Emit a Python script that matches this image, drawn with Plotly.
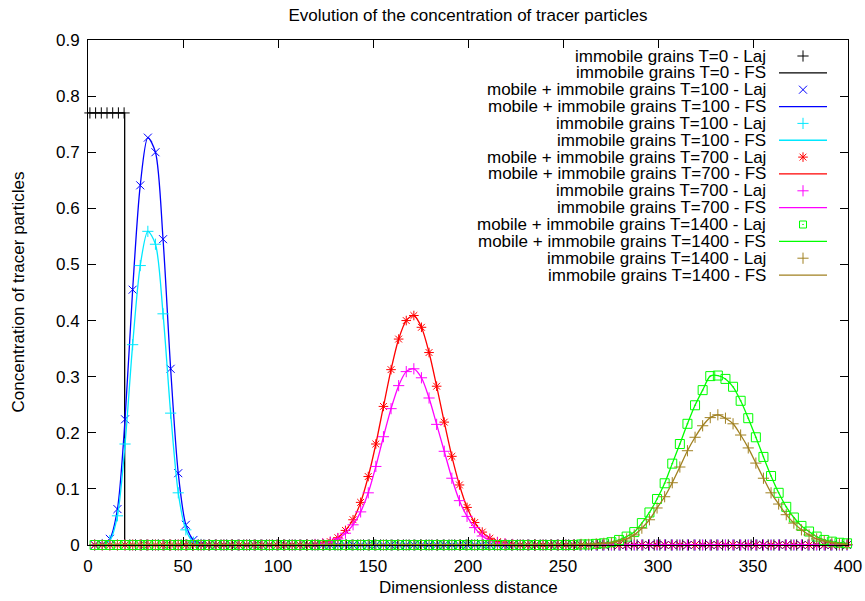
import plotly.graph_objects as go

# ---------------- data ----------------
# sample grid of the Lagrangian (Laj) results: 3.5, 7.5, ..., 399.5
GRID_START, GRID_STEP, GRID_N = 3.5, 4.0, 100
X_GRID = [GRID_START + GRID_STEP * k for k in range(GRID_N)]

# T=0 immobile grains (Laj uses a 3-unit grid, 1..397)
T0_X = [1 + 3 * k for k in range(133)]
T0_LEVEL = 0.77
T0_EDGE = 19.3
T0_LAJ = [T0_LEVEL if x <= 19.5 else 0.0 for x in T0_X]
T0_FS_X = [0.0, T0_EDGE, T0_EDGE, 400.0]
T0_FS_Y = [T0_LEVEL, T0_LEVEL, 0.0, 0.0]

# non-zero parts of each profile: (first x, values every 4 units)
MI100_START = 3.5
MI100_VALS = [0.0, 0.001, 0.011, 0.064, 0.224, 0.455, 0.641, 0.726, 0.700,
              0.545, 0.314, 0.128, 0.036, 0.009, 0.002]
I100_START = 3.5
I100_VALS = [0.0, 0.001, 0.008, 0.052, 0.180, 0.357, 0.498, 0.559, 0.536,
             0.412, 0.235, 0.093, 0.027, 0.005, 0.001]
MI700_START = 119.5
MI700_VALS = [0.001, 0.003, 0.006, 0.013, 0.026, 0.045, 0.076, 0.122, 0.180,
              0.247, 0.3125, 0.367, 0.400, 0.409, 0.388, 0.343, 0.283, 0.219,
              0.158, 0.107, 0.067, 0.040, 0.023, 0.012, 0.006, 0.003, 0.001]
I700_START = 119.5
I700_VALS = [0.001, 0.002, 0.005, 0.011, 0.021, 0.036, 0.059, 0.093, 0.140,
             0.193, 0.243, 0.284, 0.309, 0.314, 0.298, 0.262, 0.215, 0.167,
             0.119, 0.079, 0.051, 0.031, 0.016, 0.008, 0.004, 0.002, 0.001]
MI1400_START = 259.5
MI1400_VALS = [0.001, 0.001, 0.002, 0.003, 0.005, 0.009, 0.015, 0.023,
               0.039, 0.058, 0.082, 0.110, 0.145, 0.180, 0.216, 0.249, 0.276,
               0.301, 0.302, 0.296, 0.282, 0.257, 0.226, 0.192, 0.157, 0.123,
               0.093, 0.068, 0.049, 0.034, 0.024, 0.015, 0.009, 0.006, 0.004,
               0.003]
I1400_START = 259.5
I1400_VALS = [0.001, 0.001, 0.002, 0.003, 0.004, 0.007, 0.011, 0.018,
              0.030, 0.045, 0.066, 0.086, 0.111, 0.139, 0.168, 0.192, 0.2125,
              0.227, 0.232, 0.226, 0.216, 0.196, 0.173, 0.146, 0.119, 0.093,
              0.073, 0.054, 0.039, 0.027, 0.018, 0.011, 0.007, 0.004, 0.002,
              0.001]

X_TICKS = [0, 50, 100, 150, 200, 250, 300, 350, 400]
Y_TICKS = [0, 0.1, 0.2, 0.3, 0.4, 0.5, 0.6, 0.7, 0.8, 0.9]

LABELS = [
    "immobile grains T=0 - Laj",
    "immobile grains T=0 - FS",
    "mobile + immobile grains T=100 - Laj",
    "mobile + immobile grains T=100 - FS",
    "immobile grains T=100 - Laj",
    "immobile grains T=100 - FS",
    "mobile + immobile grains T=700 - Laj",
    "mobile + immobile grains T=700 - FS",
    "immobile grains T=700 - Laj",
    "immobile grains T=700 - FS",
    "mobile + immobile grains T=1400 - Laj",
    "mobile + immobile grains T=1400 - FS",
    "immobile grains T=1400 - Laj",
    "immobile grains T=1400 - FS",
]

BLACK, BLUE, CYAN, RED, MAGENTA, GREEN, BROWN = (
    "#000000", "#0000ff", "#00e8ff", "#ff0000", "#ff00ff", "#00ff00", "#a08020")


def full_profile(start, vals):
    i0 = int(round((start - GRID_START) / GRID_STEP))
    out = [0.0] * GRID_N
    for j, v in enumerate(vals):
        out[i0 + j] = v
    return out


MI100 = full_profile(MI100_START, MI100_VALS)
I100 = full_profile(I100_START, I100_VALS)
MI700 = full_profile(MI700_START, MI700_VALS)
I700 = full_profile(I700_START, I700_VALS)
MI1400 = full_profile(MI1400_START, MI1400_VALS)
I1400 = full_profile(I1400_START, I1400_VALS)

# ---------------- figure ----------------
W, H = 865, 601
ML, MR, MT, MB = 88, 17, 40, 56
PW, PH = W - ML - MR, H - MT - MB
FONT = "Liberation Sans, Arial, sans-serif"
FS_SIZE = 17
MS = 8

fig = go.Figure()


def laj(x, y, symbol, color, size=MS, lw=1.0):
    fig.add_trace(go.Scatter(
        x=x, y=y, mode="markers", cliponaxis=False, showlegend=False,
        marker=dict(symbol=symbol, size=size, color=color,
                    line=dict(color=color, width=lw))))


def fs(x, y, color, shape="spline"):
    fig.add_trace(go.Scatter(
        x=x, y=y, mode="lines", showlegend=False,
        line=dict(color=color, width=1.3, shape=shape,
                  smoothing=0.8 if shape == "spline" else None)))


laj(T0_X, T0_LAJ, "cross-thin", BLACK)
fs(T0_FS_X, T0_FS_Y, BLACK, shape="linear")
laj(X_GRID, MI100, "x-thin", BLUE)
fs(X_GRID, MI100, BLUE)
laj(X_GRID, I100, "cross-thin", CYAN)
fs(X_GRID, I100, CYAN)
laj(X_GRID, MI700, "asterisk", RED)
fs(X_GRID, MI700, RED)
laj(X_GRID, I700, "cross-thin", MAGENTA)
fs(X_GRID, I700, MAGENTA)
laj(X_GRID, MI1400, "square-open-dot", GREEN, size=MS + 1)
fs(X_GRID, MI1400, GREEN)
laj(X_GRID, I1400, "cross-thin", BROWN)
fs(X_GRID, I1400, BROWN)


def px_to_paper(px, py):
    return (px - ML) / PW, (H - MB - py) / PH


# ---------------- manual gnuplot-style key (text left, sample right) ----------------
# x2 / y2 are invisible helper axes that map 1:1 onto figure pixels of the plot area
KEY_STYLES = [
    ("m", "cross-thin", BLACK), ("l", None, BLACK),
    ("m", "x-thin", BLUE), ("l", None, BLUE),
    ("m", "cross-thin", CYAN), ("l", None, CYAN),
    ("m", "asterisk", RED), ("l", None, RED),
    ("m", "cross-thin", MAGENTA), ("l", None, MAGENTA),
    ("m", "square-open-dot", GREEN), ("l", None, GREEN),
    ("m", "cross-thin", BROWN), ("l", None, BROWN),
]
KEY_TOP, KEY_ROW = 56.0, 16.85
KEY_TEXT_RIGHT, KEY_SAMPLE_L, KEY_SAMPLE_R = 767, 779, 827
annotations = []
for i, (lab, (kind, sym, col)) in enumerate(zip(LABELS, KEY_STYLES)):
    yy = KEY_TOP + KEY_ROW * i
    ax_, ay_ = px_to_paper(KEY_TEXT_RIGHT, yy)
    annotations.append(dict(
        x=ax_, y=ay_, xref="paper", yref="paper", text=lab, showarrow=False,
        xanchor="right", yanchor="middle", borderpad=0,
        font=dict(family=FONT, size=FS_SIZE, color="black")))
    if kind == "m":
        fig.add_trace(go.Scatter(
            x=[(KEY_SAMPLE_L + KEY_SAMPLE_R) / 2], y=[yy], xaxis="x2", yaxis="y2",
            mode="markers", showlegend=False, hoverinfo="skip",
            marker=dict(symbol=sym, size=MS if sym != "square-open-dot" else 7,
                        color=col, line=dict(color=col, width=1))))
    else:
        fig.add_trace(go.Scatter(
            x=[KEY_SAMPLE_L, KEY_SAMPLE_R], y=[yy, yy], xaxis="x2", yaxis="y2",
            mode="lines", showlegend=False, hoverinfo="skip",
            line=dict(color=col, width=1.3)))

xt_x, xt_y = px_to_paper((ML + (W - MR)) / 2, 587)
yt_x, yt_y = px_to_paper(18, (MT + H - MB) / 2)
annotations += [
    dict(text="Dimensionless distance", x=xt_x, y=xt_y,
         xref="paper", yref="paper", showarrow=False, xanchor="center", yanchor="middle",
         font=dict(family=FONT, size=FS_SIZE, color="black")),
    dict(text="Concentration of tracer particles", x=yt_x, y=yt_y,
         xref="paper", yref="paper", showarrow=False, xanchor="center", yanchor="middle",
         textangle=-90, font=dict(family=FONT, size=FS_SIZE, color="black")),
]

axis_common = dict(showgrid=False, zeroline=False, showline=True, linecolor="black",
                   linewidth=1, mirror="allticks", ticks="inside", ticklen=8,
                   tickcolor="black", tickwidth=1, automargin=False,
                   tickfont=dict(family=FONT, size=FS_SIZE, color="black"))

fig.update_layout(
    width=W, height=H, autosize=False,
    margin=dict(l=ML, r=MR, t=MT, b=MB, pad=0, autoexpand=False),
    paper_bgcolor="white", plot_bgcolor="rgba(0,0,0,0)",
    showlegend=False,
    title=dict(text="Evolution of the concentration of tracer particles",
               x=(ML + (W - MR)) / 2 / W, xanchor="center", y=1 - 15 / H, yanchor="middle",
               font=dict(family=FONT, size=17, color="black")),
    xaxis=dict(range=[0, 400], tickvals=X_TICKS, ticklabelstandoff=6, **axis_common),
    yaxis=dict(range=[0, 0.9], tickvals=Y_TICKS, ticktext=[f"{v:g}" for v in Y_TICKS],
               ticklabelstandoff=4, **axis_common),
    xaxis2=dict(overlaying="x", range=[ML, W - MR], visible=False, fixedrange=True,
                automargin=False),
    yaxis2=dict(overlaying="y", range=[H - MB, MT], visible=False, fixedrange=True,
                automargin=False),
    annotations=annotations,
)

fig.write_html(
    "out.html",
    config={"displayModeBar": False, "responsive": False},
    post_script="document.body.style.margin='0';document.body.style.overflow='hidden';",
)
